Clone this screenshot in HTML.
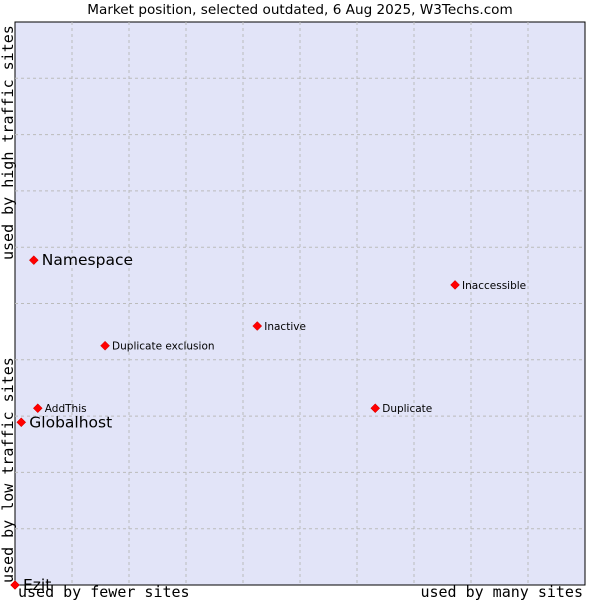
<!DOCTYPE html>
<html><head><meta charset="utf-8"><style>
body{margin:0;background:#fff;}
svg{display:block;font-family:"DejaVu Sans","Liberation Sans",sans-serif;}
.mono{font-family:"DejaVu Sans Mono","Liberation Mono",monospace;font-size:15px;}
</style></head><body>
<svg id="chart" width="600" height="600" viewBox="0 0 600 600">
<text x="300" y="14" text-anchor="middle" font-size="13.6" fill="#000">Market position, selected outdated, 6 Aug 2025, W3Techs.com</text>
<rect x="15" y="22" width="570" height="563" fill="#e2e4f8" stroke="#000" stroke-width="1"/>
<g id="grid"></g>
<g id="points"></g>
<text class="mono" x="18" y="597">used by fewer sites</text>
<text class="mono" x="583" y="597" text-anchor="end">used by many sites</text>
<text class="mono" transform="translate(13,260) rotate(-90)">used by high traffic sites</text>
<text class="mono" transform="translate(13,583) rotate(-90)">used by low traffic sites</text>
</svg>
<script>
const names=["Namespace","Globalhost","Ezit","AddThis","Duplicate exclusion","Inactive","Inaccessible","Duplicate"];
const xValues=[0.33,0.11,0,0.40,1.58,4.25,7.72,6.32];
const yValues=[5.77,2.89,0,3.14,4.25,4.60,5.33,3.14];
const bigLabel=[true,true,true,false,false,false,false,false];
const L=15,R=585,T=22,B=585;
const sx=v=>L+v/10*(R-L);
const sy=v=>B-v/10*(B-T);
const NS="http://www.w3.org/2000/svg";
const grid=document.getElementById('grid');
for(let i=1;i<10;i++){
 const v=document.createElementNS(NS,'line');
 
 
 v.setAttribute('x1',sx(i));v.setAttribute('x2',sx(i));v.setAttribute('y1',T);v.setAttribute('y2',B);
 v.setAttribute('stroke','#bbb');v.setAttribute('stroke-dasharray','3,3');
 grid.appendChild(v);
 const h=document.createElementNS(NS,'line');
 
 
 h.setAttribute('y1',sy(i));h.setAttribute('y2',sy(i));h.setAttribute('x1',L);h.setAttribute('x2',R);
 h.setAttribute('stroke','#bbb');h.setAttribute('stroke-dasharray','3,3');
 grid.appendChild(h);
}
const pts=document.getElementById('points');
names.forEach((n,i)=>{
 const x=sx(xValues[i]),y=sy(yValues[i]);
 const d=document.createElementNS(NS,'path');
 
 
 d.setAttribute('d',`M${x-4.5},${y}L${x},${y-4.5}L${x+4.5},${y}L${x},${y+4.5}Z`);
 d.setAttribute('fill','#f00');d.setAttribute('stroke','#c00');d.setAttribute('stroke-width','0.5');
 pts.appendChild(d);
 const t=document.createElementNS(NS,'text');
 
 
 t.setAttribute('x',x+(bigLabel[i]?8:7));
 t.setAttribute('y',y+(bigLabel[i]?5:4));
 t.setAttribute('font-size',bigLabel[i]?15.5:10.5);
 t.textContent=n;
 pts.appendChild(t);
});
</script>
</body></html>
